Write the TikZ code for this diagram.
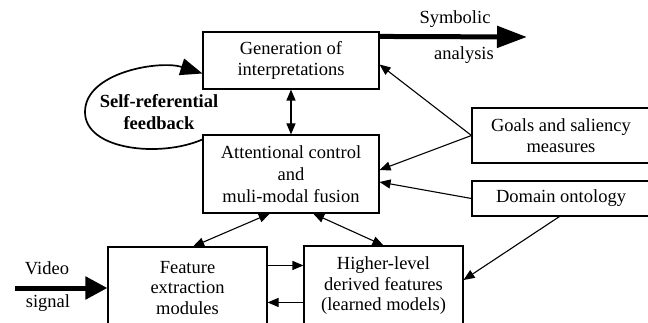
\documentclass[tikz,border=0pt]{standalone}
\usepackage{fontspec}
\setmainfont{Liberation Serif}
\usetikzlibrary{arrows.meta,calc}

\tikzset{
  box/.style={draw, line width=1.1pt, align=center, inner sep=0pt},
  link/.style={line width=1.1pt, -{Triangle[length=11pt,width=9pt]}},
  dlink/.style={line width=1.1pt, {Triangle[length=11pt,width=9pt]}-{Triangle[length=11pt,width=9pt]}},
  symarrow/.style={line width=5pt, -{Triangle[length=30pt,width=21pt]}},
  vidarrow/.style={line width=5pt, -{Triangle[length=22pt,width=22pt]}},
  fbloop/.style={line width=1.7pt, -{Triangle[length=22pt,width=17pt]}},
}

\begin{document}
\begin{tikzpicture}[x=1pt,y=-1pt,font=\fontsize{18.5}{20.5}\selectfont]
            \useasboundingbox (0,0) rectangle (648,323);
            \clip (0,0) rectangle (648,323);

            % boxes
            \node[box, minimum width=176pt, minimum height=57pt] (gen) at (291,60.5) {Generation of\\interpretations};
            \node[box, minimum width=176pt, minimum height=78pt] (att) at (291,174) {Attentional control\\[1.5pt]and\\[1.5pt]muli-modal fusion};
            \node[box, minimum width=159pt, minimum height=82pt] (feat) at (187.5,288) {Feature\\extraction\\modules};
            \node[box, minimum width=159pt, minimum height=80pt] (high) at (383.5,286) {Higher-level\\derived features\\(learned models)};
            \node[box, minimum width=178pt, minimum height=55pt] (goals) at (561,135.5) {Goals and saliency\\measures};
            \node[box, minimum width=178pt, minimum height=35pt] (onto) at (561,198.5) {Domain ontology};

            % labels
            \node (symtop) at (455,19) {Symbolic};
            \node (symbot) at (464,55) {analysis};
            \node (vidtop) at (47,268) {Video};
            \node (vidbot) at (48,303) {signal};
            \node[font=\fontsize{18.5}{22}\selectfont\bfseries, align=center] (self) at (159,112) {Self-referential\\feedback};

            % in and out
            \coordinate (symend) at (527,37);
            \coordinate (vidstart) at (15,288);
            \draw[symarrow] ([yshift=-5pt]gen.north east) -- (symend);
            \draw[vidarrow] (vidstart) -- (feat.west);

            % feedback loop
            \draw[fbloop] ([yshift=-5pt]att.north west) .. controls (160,158) and (85,150) .. (85,112)
                          .. controls (85,72) and (160,60) .. ([yshift=-13pt]gen.west);

            % links
            \draw[dlink] (gen.south) -- (att.north);
            \draw[link] (goals.west) -- ([yshift=-4pt]gen.east);
            \draw[link] (goals.west) -- ([yshift=4pt]att.east);
            \draw[link] (onto.west) -- ([yshift=-8pt]att.east);
            \draw[link] ([xshift=88pt]onto.south west) -- ([yshift=6pt]high.east);
            \draw[dlink] ($(att.south west)!0.38!(att.south east)$) -- ($(feat.north west)!0.535!(feat.north east)$);
            \draw[dlink] ($(att.south west)!0.625!(att.south east)$) -- (high.north);
            \coordinate (fh) at ([yshift=-19pt]feat.north east);
            \coordinate (hf) at ([yshift=-56pt]feat.north east);
            \draw[link] (fh) -- (fh -| high.west);
            \draw[link] (hf -| high.west) -- (hf);
\end{tikzpicture}
\end{document}
